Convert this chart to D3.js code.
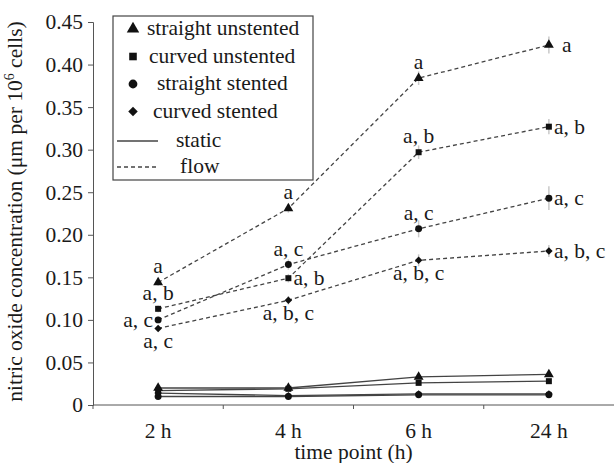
<!DOCTYPE html>
<html>
<head>
<meta charset="utf-8">
<script src="https://cdn.jsdelivr.net/npm/d3@7"></script>
<style>
  body { margin: 0; background: #fff; }
</style>
</head>
<body>
<div id="chart"></div>
<script>
// time points
var times = ["2 h", "4 h", "6 h", "24 h"];
var yTicks = [0, 0.05, 0.10, 0.15, 0.20, 0.25, 0.30, 0.35, 0.40, 0.45];

var seriesNames = ["straight unstented", "curved unstented", "straight stented", "curved stented"];

// flow (dashed)
var flowStraightUnstented = [0.144, 0.231, 0.384, 0.423];
var flowCurvedUnstented   = [0.113, 0.149, 0.297, 0.327];
var flowStraightStented   = [0.100, 0.165, 0.207, 0.243];
var flowCurvedStented     = [0.090, 0.123, 0.170, 0.181];

// flow error (+/-)
var errStraightUnstented = [0.004, 0.005, 0.008, 0.010];
var errCurvedUnstented   = [0.004, 0.005, 0.008, 0.009];
var errStraightStented   = [0.004, 0.006, 0.010, 0.014];
var errCurvedStented     = [0.003, 0.005, 0.007, 0.007];

// static (solid)
var staticStraightUnstented = [0.020, 0.020, 0.033, 0.036];
var staticCurvedUnstented   = [0.017, 0.019, 0.026, 0.028];
var staticStraightStented   = [0.010, 0.010, 0.012, 0.012];
var staticCurvedStented     = [0.014, 0.011, 0.013, 0.013];

// significance letters
var lettersStraightUnstented = ["a", "a", "a", "a"];
var lettersCurvedUnstented   = ["a, b", "a, b", "a, b", "a, b"];
var lettersStraightStented   = ["a, c", "a, c", "a, c", "a, c"];
var lettersCurvedStented     = ["a, c", "a, b, c", "a, b, c", "a, b, c"];

var FONT = "'Liberation Serif', 'Times New Roman', Times, 'DejaVu Serif', serif";
var FS = 21.5;

var margin = {top: 22, right: 2, bottom: 58, left: 93},
    width = 616 - margin.left - margin.right,
    height = 463 - margin.top - margin.bottom;

var svg = d3.select("#chart").append("svg")
  .attr("width", 616)
  .attr("height", 463)
  .style("font-family", FONT)
  .append("g")
  .attr("transform", "translate(" + margin.left + "," + margin.top + ")");

var x = d3.scaleBand()
  .domain(times)
  .range([0, width]);

var y = d3.scaleLinear()
  .domain([0, 0.45])
  .range([height, 0]);

var symbols = [d3.symbolTriangle, d3.symbolSquare, d3.symbolCircle, d3.symbolSquare];
var markSize = [42, 36, 38, 28];
var markRot = [0, 0, 0, 45];

var flow = [flowStraightUnstented, flowCurvedUnstented, flowStraightStented, flowCurvedStented];
var errs = [errStraightUnstented, errCurvedUnstented, errStraightStented, errCurvedStented];
var statics = [staticStraightUnstented, staticCurvedUnstented, staticStraightStented, staticCurvedStented];
var letters = [lettersStraightUnstented, lettersCurvedUnstented, lettersStraightStented, lettersCurvedStented];

// where each letter sits relative to its point
var letterPlace = [
  ["above", "above", "above", "right"],
  ["above", "right", "above", "right"],
  ["left", "above", "above", "right"],
  ["below", "below", "below", "right"]
];

function styleText(sel, size) {
  sel.style("font-family", FONT)
    .style("font-size", size + "px")
    .attr("fill", "#1a1a1a");
}

// axes
svg.append("g")
  .attr("class", "x axis")
  .attr("transform", "translate(0," + height + ")")
  .call(d3.axisBottom(x).tickSize(0).tickPadding(18))
  .call(function(g) {
    g.select(".domain").attr("d", "M0,0H" + width).attr("stroke", "#555");
    g.selectAll("text").call(styleText, FS);
    g.selectAll(".bound")
      .data(d3.range(times.length))
      .enter().append("line")
      .attr("class", "bound")
      .attr("x1", function(i) { return x.step() * i; })
      .attr("x2", function(i) { return x.step() * i; })
      .attr("y1", 0)
      .attr("y2", 4)
      .attr("stroke", "#555");
  });

svg.append("g")
  .attr("class", "y axis")
  .call(d3.axisLeft(y)
    .tickValues(yTicks)
    .tickSizeOuter(0)
    .tickSize(5)
    .tickPadding(5)
    .tickFormat(function(d) { return d === 0 ? "0" : d3.format(".2f")(d); }))
  .call(function(g) {
    g.select(".domain").attr("stroke", "#555");
    g.selectAll("line").attr("stroke", "#555");
    g.selectAll("text").call(styleText, FS);
  });

svg.append("text")
  .attr("x", width / 2)
  .attr("y", height + 54)
  .attr("text-anchor", "middle")
  .call(styleText, FS)
  .text("time point (h)");

var ylab = svg.append("text")
  .attr("transform", "rotate(-90)")
  .attr("x", -height / 2 + 2)
  .attr("y", -71)
  .attr("text-anchor", "middle")
  .call(styleText, FS);
ylab.append("tspan").text("nitric oxide concentration (\u03bcm per 10");
ylab.append("tspan").attr("dy", -8).style("font-size", "14px").text("6");
ylab.append("tspan").attr("dy", 8).text(" cells)");

var cx = function(i) { return x(times[i]) + x.bandwidth() / 2; };

var line = d3.line()
  .x(function(d, i) { return cx(i); })
  .y(function(d) { return y(d); });

// error bars (flow)
flow.forEach(function(vals, s) {
  svg.selectAll(null)
    .data(vals)
    .enter().append("line")
    .attr("x1", function(d, i) { return cx(i); })
    .attr("x2", function(d, i) { return cx(i); })
    .attr("y1", function(d, i) { return y(d + errs[s][i]); })
    .attr("y2", function(d, i) { return y(d - errs[s][i]); })
    .attr("stroke", "#c8c8c8")
    .attr("stroke-width", 1.5);
});

// static lines
statics.forEach(function(vals) {
  svg.append("path")
    .datum(vals)
    .attr("fill", "none")
    .attr("stroke", "#444")
    .attr("stroke-width", 1.3)
    .attr("d", line);
});

// flow lines
flow.forEach(function(vals) {
  svg.append("path")
    .datum(vals)
    .attr("fill", "none")
    .attr("stroke", "#444")
    .attr("stroke-width", 1.3)
    .attr("stroke-dasharray", "4,3")
    .attr("d", line);
});

// markers
[statics, flow].forEach(function(group) {
  group.forEach(function(vals, s) {
    svg.selectAll(null)
      .data(vals)
      .enter().append("path")
      .attr("transform", function(d, i) {
        return "translate(" + cx(i) + "," + y(d) + ") rotate(" + markRot[s] + ")";
      })
      .attr("d", d3.symbol().type(symbols[s]).size(markSize[s]))
      .attr("fill", "#111");
  });
});

// letters
flow.forEach(function(vals, s) {
  svg.selectAll(null)
    .data(vals)
    .enter().append("text")
    .call(styleText, FS)
    .attr("text-anchor", function(d, i) {
      var p = letterPlace[s][i];
      return p === "left" ? "end" : p === "right" ? "start" : "middle";
    })
    .attr("x", function(d, i) {
      var p = letterPlace[s][i];
      return cx(i) + (p === "left" ? -5 : p === "right" ? (s === 0 ? 13 : 5) : 0);
    })
    .attr("y", function(d, i) {
      var p = letterPlace[s][i];
      return y(d) + (p === "above" ? -9 : p === "below" ? 20 : 7);
    })
    .text(function(d, i) { return letters[s][i]; });
});

// legend
var legend = svg.append("g")
  .attr("transform", "translate(" + (113 - margin.left) + "," + (16 - margin.top) + ")");

legend.append("rect")
  .attr("width", 200)
  .attr("height", 164)
  .attr("fill", "#fff")
  .attr("stroke", "#444")
  .attr("stroke-width", 1.2);

var legendText = [24, 26, 34, 30];
seriesNames.forEach(function(name, s) {
  var ly = 13 + s * 27.5;
  legend.append("path")
    .attr("transform", "translate(20," + ly + ") rotate(" + markRot[s] + ")")
    .attr("d", d3.symbol().type(symbols[s]).size(markSize[s] * 1.6))
    .attr("fill", "#111");
  legend.append("text")
    .attr("x", legendText[s] + 10)
    .attr("y", ly + 6)
    .call(styleText, FS)
    .text(name);
});

[["static", null], ["flow", "4,3"]].forEach(function(d, k) {
  var ly = 125 + k * 26;
  legend.append("line")
    .attr("x1", 4)
    .attr("x2", 45)
    .attr("y1", ly)
    .attr("y2", ly)
    .attr("stroke", "#444")
    .attr("stroke-width", 1.3)
    .attr("stroke-dasharray", d[1]);
  legend.append("text")
    .attr("x", k === 0 ? 63 : 67)
    .attr("y", ly + 6)
    .call(styleText, FS)
    .text(d[0]);
});
</script>
</body>
</html>
